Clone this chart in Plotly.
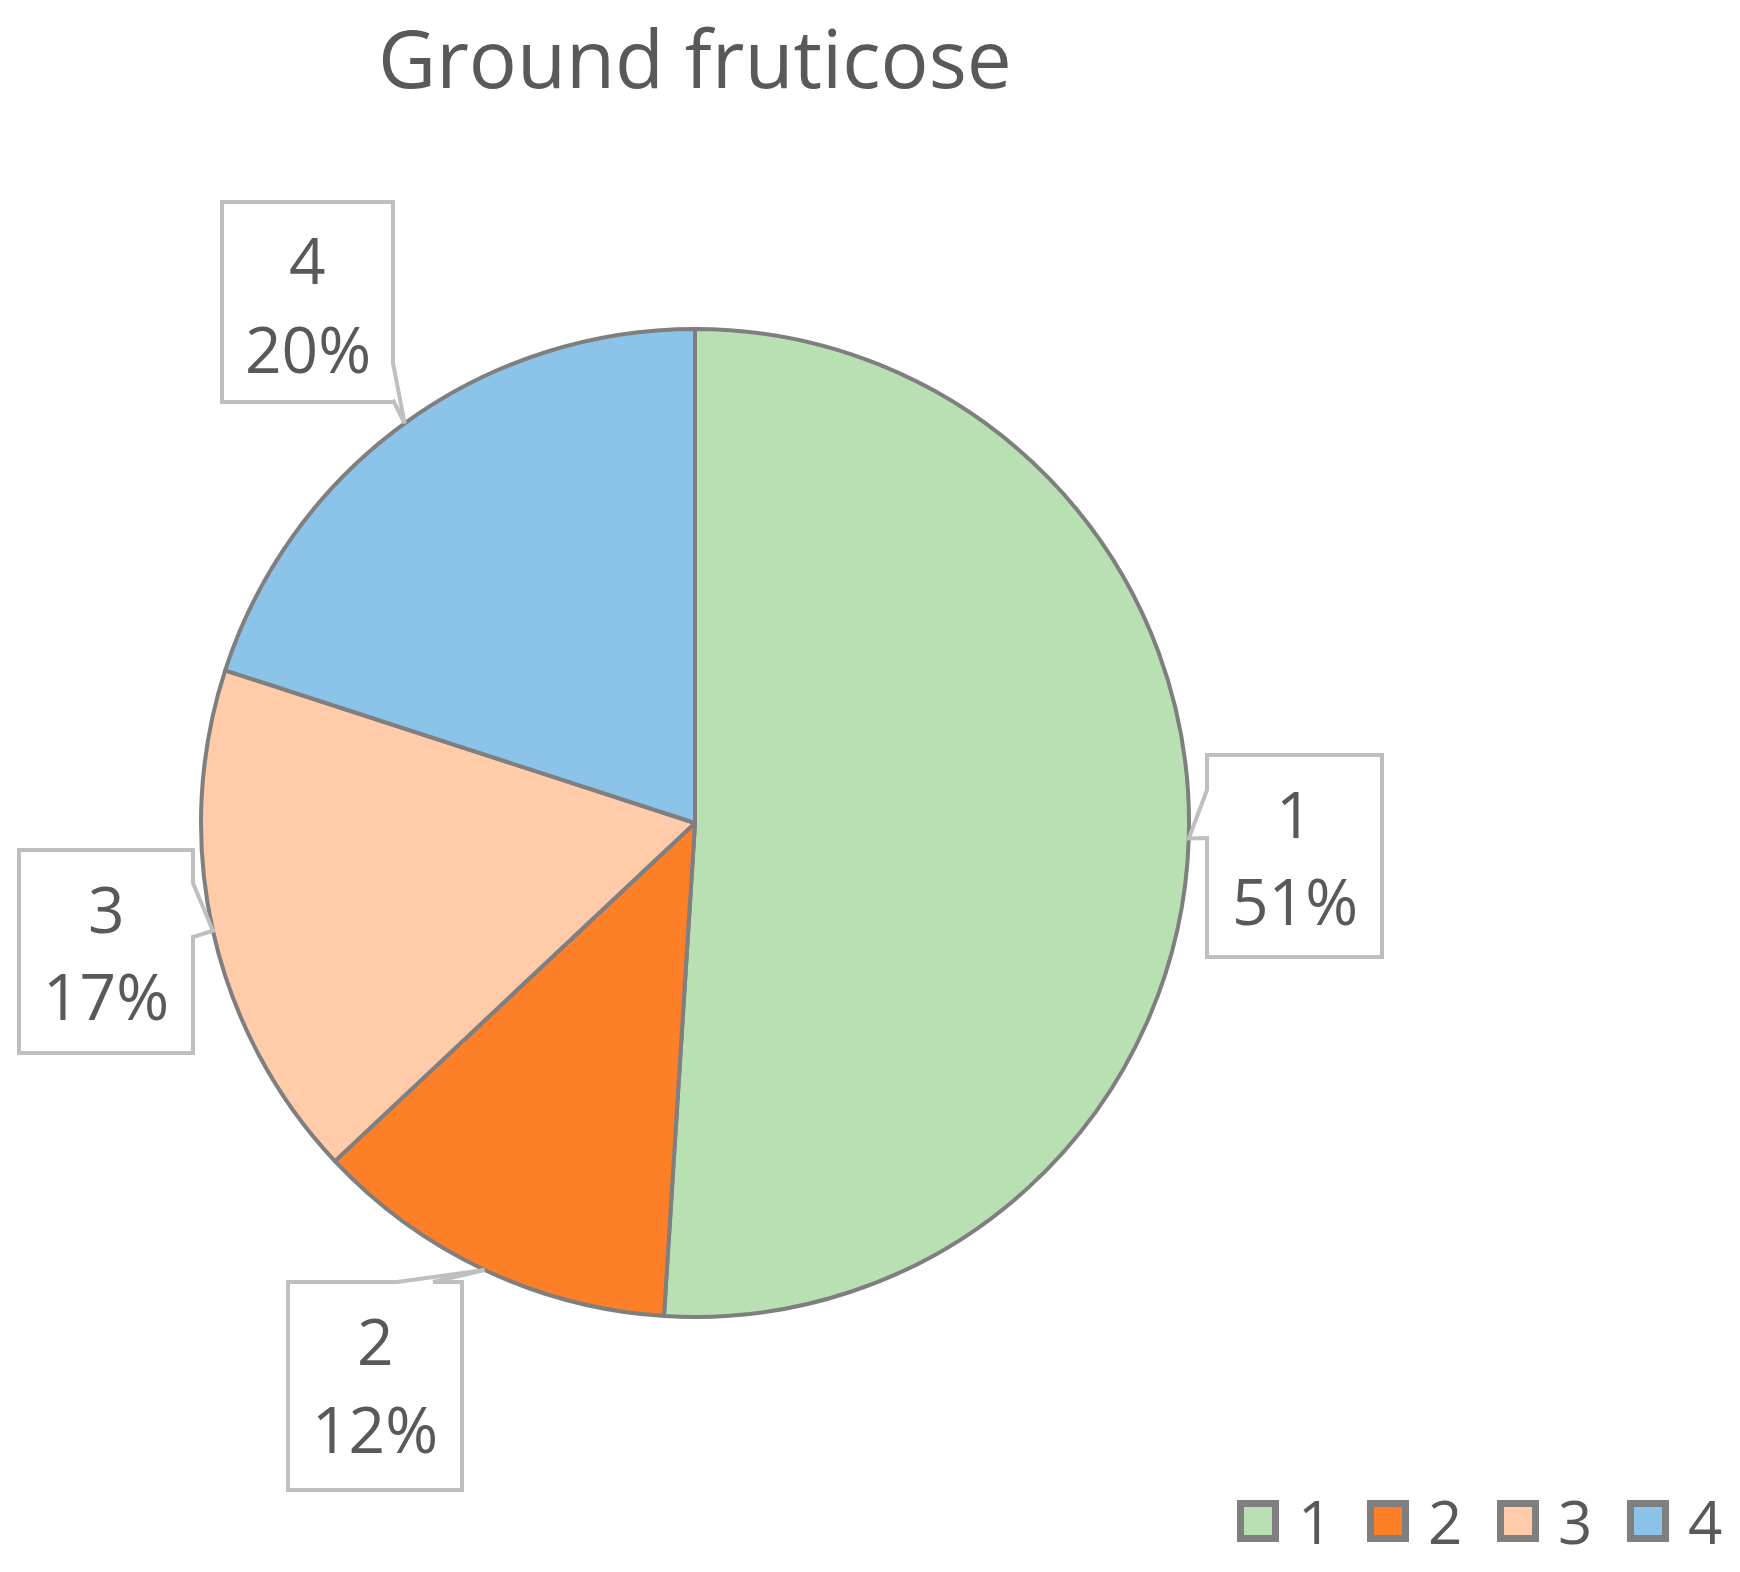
import math
import plotly.graph_objects as go

# ---- data ----
categories = ["1", "2", "3", "4"]
values = [51, 12, 17, 20]
colors = ["#B9E0B3", "#FD7F28", "#FFCBA8", "#8CC3E8"]
title_text = "Ground fruticose"

# ---- layout constants (pixels) ----
W, H = 1740, 1572
CX, CY, R = 695, 823, 494
TEXT_COLOR = "#595959"
FONT = "Open Sans"

def px(x):
    return x / W

def py(y):
    return 1 - y / H

fig = go.Figure(go.Pie(
    labels=categories, values=values, sort=False, direction="clockwise", rotation=0,
    marker=dict(colors=colors, line=dict(color="#7F7F7F", width=4)),
    textinfo="none", hoverinfo="label+percent", showlegend=False,
    domain=dict(x=[px(CX - R), px(CX + R)], y=[py(CY + R), py(CY - R)]),
))

# callout boxes: left, top, right, bottom, side of the pointer, pointer base range
boxes = [
    (1207, 755, 1382, 957, "left", 790, 838),
    (288, 1282, 462, 1490, "top", 397, 433),
    (19, 850, 193, 1053, "right", 883, 937),
    (222, 202, 393, 402, "right", 363, 400),
]

total = sum(values)
cum = 0
shapes = []
annotations = []
for cat, v, box in zip(categories, values, boxes):
    mid = (cum + v / 2) / total
    cum += v
    th = 2 * math.pi * mid
    tx, ty = CX + R * math.sin(th), CY - R * math.cos(th)
    l, t, r, b, side, a1, a2 = box
    if side == "top":
        pts = [(l, t), (a1, t), (tx, ty), (a2, t), (r, t), (r, b), (l, b)]
    elif side == "right":
        pts = [(l, t), (r, t), (r, a1), (tx, ty), (r, a2), (r, b), (l, b)]
    else:
        pts = [(l, t), (r, t), (r, b), (l, b), (l, a2), (tx, ty), (l, a1)]
    path = "M " + " L ".join(f"{px(x):.5f},{py(y):.5f}" for x, y in pts) + " Z"
    shapes.append(dict(type="path", xref="paper", yref="paper", path=path,
                       fillcolor="white", line=dict(color="#BFBFBF", width=4), layer="above"))
    cx = (l + r) / 2
    pct = f"{round(v / total * 100)}%"
    for txt, yy in ((cat, t + 58), (pct, t + 146)):
        annotations.append(dict(x=px(cx), y=py(yy), xref="paper", yref="paper", text=txt,
                                showarrow=False, xanchor="center", yanchor="middle",
                                font=dict(family=FONT, size=64, color=TEXT_COLOR)))

# manual legend
LX0, LSTEP, LY, SQ = 1237, 130, 1521, 42
for i, (cat, col) in enumerate(zip(categories, colors)):
    x0 = LX0 + i * LSTEP
    shapes.append(dict(type="rect", xref="paper", yref="paper",
                       x0=px(x0 + 3.5), x1=px(x0 + SQ - 3.5),
                       y0=py(LY + SQ / 2 - 3.5), y1=py(LY - SQ / 2 + 3.5),
                       fillcolor=col, line=dict(color="#7F7F7F", width=7)))
    annotations.append(dict(x=px(x0 + 78), y=py(LY), xref="paper", yref="paper", text=cat,
                            showarrow=False, xanchor="center", yanchor="middle",
                            font=dict(family=FONT, size=60, color=TEXT_COLOR)))

# title as an annotation anchored at its top
annotations.append(dict(x=px(CX), y=py(0), xref="paper", yref="paper", text=title_text,
                        showarrow=False, xanchor="center", yanchor="top",
                        font=dict(family=FONT, size=80, color=TEXT_COLOR)))

fig.update_layout(
    width=W, height=H, margin=dict(l=0, r=0, t=0, b=0),
    paper_bgcolor="white", plot_bgcolor="white",
    shapes=shapes, annotations=annotations, showlegend=False,
)

fig.write_html("out.html", config={"displayModeBar": False},
               post_script="document.body.style.margin='0px';")
